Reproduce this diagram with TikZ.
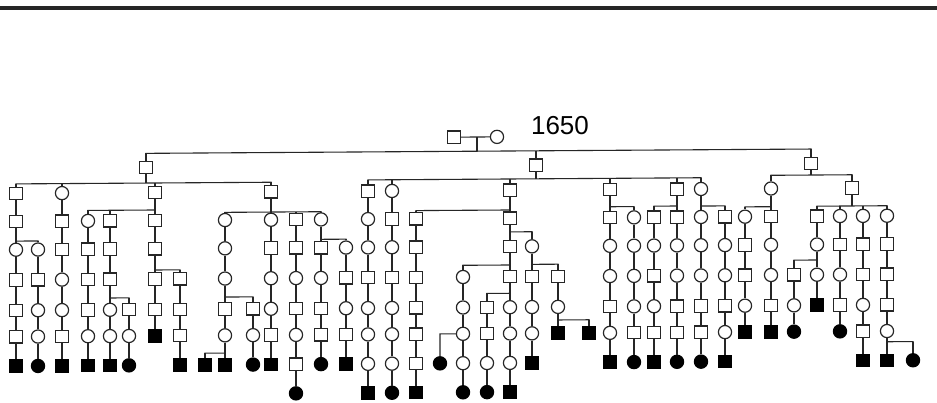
\documentclass[tikz,border=0pt]{standalone}
\usepackage{fontspec}
\setmainfont{Liberation Sans}
\tikzset{
  lw/.style={line width=1.1pt, draw=black!85},
  sq/.style={rectangle, draw=black!85, line width=1.2pt, minimum size=12.4pt, inner sep=0pt, fill=white},
  ci/.style={circle, draw=black!85, line width=1.2pt, minimum size=13.2pt, inner sep=0pt, fill=white},
  sqf/.style={sq, fill=black, draw=black},
  cif/.style={ci, fill=black, draw=black},
}
\newcommand\lineage[3]{%
  \foreach \ty [count=\ii from #2] in {#3} {
    \pgfmathsetmacro\yy{{140.1,168.6,193.5,221.5,249.8,280,310.5,336.8,366.2,395.3}[\ii]}
    \node[\ty] (n#1-\ii) at (#1,\yy) {};
    \ifnum\ii>#2\relax
      \pgfmathtruncatemacro\jj{\ii-1}
      \draw[lw] (n#1-\jj) -- (n#1-\ii);
    \fi
  }%
}
\newcommand\sib[6]{%
  \pgfmathtruncatemacro\kr{#2+1}%
  \coordinate (sp) at (#1,#3);
  \coordinate (sa) at (#4,#3);
  \coordinate (sb) at (#5,#3);
  \draw[lw] (n#1-#2) -- (sp);
  \draw[lw,line cap=rect] (sa) -- (sb);
  \foreach \kx in {#6} {\coordinate (sk) at (\kx,#3); \draw[lw] (sk) -- (n\kx-\kr);}%
}
\begin{document}
\begin{tikzpicture}[x=1pt,y=-1pt]
\useasboundingbox (0,0) rectangle (937,402);
\fill[white] (0,0) rectangle (937,402);
\draw[line width=3.6pt, black!85] (0,7.8) -- (937,7.8);
\node[font=\fontsize{26}{26}\selectfont, inner sep=0pt] (yr) at (560,126) {1650};
\begin{scope}[yslant=0.0065]
% root couple
\node[sq] (rm) at (454,140.1) {};
\node[ci] (rf) at (497,140.1) {};
\draw[lw] (rm) -- (rf);
% generation 1
\lineage{146}{1}{sq}
\lineage{536}{1}{sq}
\lineage{811}{1}{sq}
% left branch
\lineage{16}{2}{sq,sq,ci,sq,sq,sq,sqf}
\lineage{38}{4}{ci,sq,ci,ci,cif}
\lineage{62}{2}{ci,sq,sq,ci,ci,sq,sqf}
\lineage{88}{3}{ci,sq,sq,sq,ci,sqf}
\lineage{110}{3}{sq,sq,sq,ci,ci,sqf}
\lineage{129}{6}{sq,ci,cif}
\lineage{155}{2}{sq,sq,sq,sq,sq,sqf}
\lineage{180}{5}{sq,sq,sq,sqf}
\lineage{205}{8}{sqf}
\lineage{225}{3}{ci,ci,ci,sq,ci,sqf}
\lineage{253}{6}{sq,ci,cif}
\lineage{271}{2}{sq,ci,sq,ci,ci,sq,sqf}
\lineage{296}{3}{sq,sq,ci,sq,ci,sq,cif}
\lineage{321}{3}{ci,sq,ci,sq,sq,cif}
\lineage{346}{4}{ci,sq,ci,sq,sqf}
% middle branch
\lineage{368}{2}{sq,ci,ci,sq,ci,ci,ci,sqf}
\lineage{392}{2}{ci,sq,ci,sq,ci,ci,ci,cif}
\lineage{416}{3}{sq,sq,sq,sq,sq,sq,sqf}
\lineage{440}{8}{cif}
\lineage{463}{5}{ci,ci,ci,ci,cif}
\lineage{487}{6}{sq,sq,ci,cif}
\lineage{510}{2}{sq,sq,sq,sq,ci,ci,ci,sqf}
\lineage{532}{4}{ci,sq,ci,ci,sqf}
\lineage{558}{5}{sq,ci,sqf}
\lineage{589}{7}{sqf}
\lineage{610}{2}{sq,sq,ci,ci,sq,ci,sqf}
\lineage{634}{3}{ci,ci,ci,ci,sq,cif}
\lineage{654}{3}{sq,ci,sq,ci,sq,sqf}
\lineage{677}{2}{sq,sq,ci,ci,sq,sq,cif}
\lineage{701}{2}{ci,ci,ci,ci,sq,sq,cif}
\lineage{725}{3}{sq,ci,ci,sq,ci,sqf}
% right branch
\lineage{745}{3}{ci,sq,sq,ci,sqf}
\lineage{771}{2}{ci,sq,ci,ci,sq,sqf}
\lineage{794}{5}{sq,ci,cif}
\lineage{817}{3}{sq,ci,ci,sqf}
\lineage{840}{3}{ci,sq,ci,sq,cif}
\lineage{852}{2}{sq}
\lineage{863}{3}{ci,sq,sq,ci,sq,sqf}
\lineage{887}{3}{ci,sq,sq,sq,ci,sqf}
\lineage{913}{8}{cif}
% root connections
\coordinate (rj) at (477,140.1);
\coordinate (rl) at (477,154.3);
\coordinate (ra) at (146,154.3);
\coordinate (rc) at (536,154.3);
\coordinate (rb) at (811,154.3);
\draw[lw] (rj) -- (rl);
\draw[lw,line cap=rect] (ra) -- (rb);
\draw[lw] (ra) -- (n146-1);
\draw[lw] (rc) -- (n536-1);
\draw[lw] (rb) -- (n811-1);
% left sibships
\sib{146}{1}{184}{16}{271}{16,62,155,271}
\sib{16}{3}{241.2}{16}{38}{16,38}
\sib{155}{2}{211}{88}{155}{88,110,155}
\sib{155}{4}{271}{155}{180}{155,180}
\sib{110}{5}{298.7}{110}{129}{110,129}
\sib{271}{2}{213.8}{225}{321}{225,271,296,321}
\sib{225}{5}{298.5}{225}{253}{225,253}
\sib{225}{7}{354.5}{205}{225}{205,225}
\sib{321}{3}{241.4}{321}{346}{321,346}
% middle sibships
\sib{536}{1}{182.3}{368}{701}{368,392,510,610,677,701}
\sib{510}{2}{213.3}{416}{510}{416,510}
\sib{510}{3}{235.2}{510}{532}{510,532}
\sib{510}{4}{268.3}{463}{510}{463,510}
\sib{510}{5}{296.6}{487}{510}{487,510}
\sib{532}{4}{267.8}{532}{558}{532,558}
\sib{558}{6}{323.6}{558}{589}{558,589}
\sib{610}{2}{210.7}{610}{634}{610,634}
\sib{677}{2}{210.4}{654}{677}{654,677}
\sib{701}{2}{210.6}{701}{725}{701,725}
\coordinate (side) at (440,336.8);
\draw[lw] (n463-7) -- (side) -- (n440-8);
% right sibships
\sib{811}{1}{180.3}{771}{852}{771,852}
\sib{771}{2}{211.7}{745}{771}{745,771}
\sib{852}{2}{211.5}{817}{887}{817,840,863,887}
\sib{817}{4}{265.3}{794}{817}{794,817}
\sib{887}{7}{347.5}{887}{913}{887,913}
\end{scope}
\end{tikzpicture}
\end{document}
